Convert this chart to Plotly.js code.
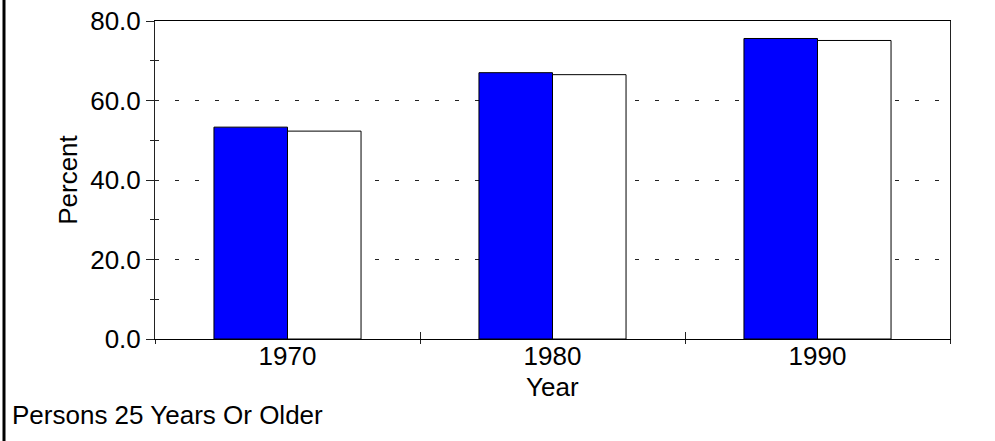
<!DOCTYPE html>
<html>
<head>
<meta charset="utf-8">
<script src="https://cdn.plot.ly/plotly-3.0.1.min.js"></script>
<style>html,body{margin:0;padding:0;background:#fff;}#chart{width:995px;height:441px;}</style>
</head>
<body>
<div id="chart"></div>
<script>
const years = ["1970", "1980", "1990"];
const seriesA = [53.3, 67.0, 75.6];
const seriesB = [52.3, 66.5, 75.1];
const yTicks = [0, 20, 40, 60, 80];
const yTickText = ["0.0", "20.0", "40.0", "60.0", "80.0"];
const xTitle = "Year";
const yTitle = "Percent";
const footer = "Persons 25 Years Or Older";

const FONT = "Liberation Sans, Arial, sans-serif";
const FS = 26;
const L = 155, R = 45, T = 21, B = 102, W = 995, H = 441;
const pw = W - L - R, ph = H - T - B;

const traces = [
  {type: "bar", x: years, y: seriesA, marker: {color: "#0000ff", line: {color: "#000", width: 1}}, hoverinfo: "none"},
  {type: "bar", x: years, y: seriesB, marker: {color: "#ffffff", line: {color: "#000", width: 1}}, hoverinfo: "none"},
  {type: "scatter", x: years, y: [null, null, null], xaxis: "x2", yaxis: "y2", showlegend: false, hoverinfo: "none"}
];

const layout = {
  width: W, height: H,
  margin: {l: L, r: R, t: T, b: B, pad: 0},
  paper_bgcolor: "#fff", plot_bgcolor: "#fff",
  showlegend: false,
  barmode: "group", bargap: 0.445, bargroupgap: 0,
  font: {family: FONT, size: FS, color: "#000"},
  xaxis: {
    type: "category", tickson: "boundaries",
    ticks: "outside", ticklen: 4, tickcolor: "#222", tickwidth: 1,
    ticklabelstandoff: -6,
    showline: true, linecolor: "#000", linewidth: 1, mirror: true,
    showgrid: false, zeroline: false,
    tickfont: {size: FS, family: FONT, color: "#000"},
    range: [-0.5, 2.5], fixedrange: true
  },
  xaxis2: {
    type: "category", overlaying: "x", tickson: "boundaries", matches: "x",
    ticks: "inside", ticklen: 7, tickcolor: "#222", tickwidth: 1,
    showticklabels: false, showline: false, showgrid: false, zeroline: false,
    range: [-0.5, 2.5]
  },
  yaxis: {
    range: [0, 80], tickmode: "array", tickvals: yTicks, ticktext: yTickText,
    ticks: "outside", ticklen: 8, tickcolor: "#222", tickwidth: 1,
    minor: {dtick: 10, ticks: "outside", ticklen: 4, tickcolor: "#222", showgrid: false},
    showline: true, linecolor: "#222", linewidth: 1, mirror: true,
    showgrid: true, gridcolor: "#222", gridwidth: 1, griddash: "4px,16px",
    zeroline: false,
    tickfont: {size: FS, family: FONT, color: "#000"},
    title: {text: yTitle, font: {size: FS, family: FONT, color: "#000"}, standoff: 5},
    fixedrange: true
  },
  yaxis2: {
    overlaying: "y", range: [0, 80], tickmode: "array", tickvals: yTicks,
    ticks: "inside", ticklen: 2, tickcolor: "#222",
    minor: {dtick: 10, ticks: "inside", ticklen: 4, tickcolor: "#222", showgrid: false},
    showticklabels: false, showline: false, showgrid: false, zeroline: false
  },
  shapes: [
    {type: "line", xref: "paper", yref: "paper", x0: (4 - L) / pw, x1: (4 - L) / pw, y0: -B / ph, y1: (ph + T) / ph, line: {color: "#000", width: 3}}
  ],
  annotations: [
    {text: xTitle, xref: "paper", yref: "paper", x: 0.5, y: -(387 - T - ph) / ph,
     xanchor: "center", yanchor: "middle", showarrow: false, font: {size: FS, family: FONT, color: "#000"}},
    {text: footer, xref: "paper", yref: "paper", x: (10 - L) / pw, y: -(415 - T - ph) / ph,
     xanchor: "left", yanchor: "middle", showarrow: false, font: {size: FS, family: FONT, color: "#000"}}
  ]
};

Plotly.newPlot("chart", traces, layout, {staticPlot: true, displayModeBar: false});
</script>
</body>
</html>
